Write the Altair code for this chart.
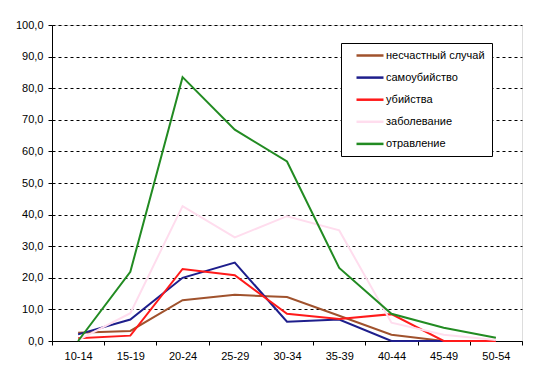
import altair as alt
import pandas as pd

ages = ["10-14", "15-19", "20-24", "25-29", "30-34", "35-39", "40-44", "45-49", "50-54"]
series_names = ["несчастный случай", "самоубийство", "убийства", "заболевание", "отравление"]
colors = ["#A0522D", "#1E1E8C", "#FF1A1A", "#FFDDEE", "#228B22"]

accident = [2.6, 3.2, 12.9, 14.6, 13.9, 8.0, 2.0, 0.0, 0.0]
suicide = [2.1, 6.8, 20.0, 24.8, 6.1, 6.8, 0.0, 0.0, 0.0]
murder = [0.9, 1.7, 22.8, 20.8, 8.6, 7.0, 8.5, 0.0, 0.0]
disease = [0.3, 8.8, 42.7, 32.8, 39.5, 35.0, 5.8, 2.0, 0.3]
poisoning = [0.0, 21.9, 83.5, 66.9, 56.8, 23.1, 8.6, 4.2, 1.0]

all_values = [accident, suicide, murder, disease, poisoning]

rows = []
for order, (name, vals) in enumerate(zip(series_names, all_values)):
    for a, v in zip(ages, vals):
        rows.append({"age": a, "value": v, "series": name, "order": order})
df = pd.DataFrame(rows)

FONT = "Liberation Sans"

lines = alt.Chart(df).mark_line(strokeWidth=2, clip=False).encode(
    x=alt.X("age:N", sort=ages, title=None,
            scale=alt.Scale(type="band", paddingInner=0, paddingOuter=0),
            axis=alt.Axis(tickBand="extent", labelAngle=0, tickSize=4, labelPadding=5,
                          domainColor="black", tickColor="black", labelColor="black",
                          labelFont=FONT, labelFontSize=11, grid=False)),
    y=alt.Y("value:Q", title=None,
            scale=alt.Scale(domain=[0, 100], nice=False),
            axis=alt.Axis(values=list(range(0, 101, 10)), tickSize=4, labelPadding=5,
                          labelExpr="replace(format(datum.value, '.1f'), '.', ',')",
                          domainColor="black", tickColor="black", labelColor="black",
                          labelFont=FONT, labelFontSize=11,
                          grid=True, gridColor="black", gridDash=[3, 3], gridWidth=1,
                          gridOpacity=1)),
    color=alt.Color("series:N", sort=series_names,
                    scale=alt.Scale(domain=series_names, range=colors),
                    legend=alt.Legend(title=None, orient="none", legendX=289, legendY=18,
                                      symbolType="M1,0H10", symbolSize=36,
                                      symbolStrokeWidth=2.5, labelOffset=27,
                                      labelFont=FONT, labelFontSize=11, labelColor="black",
                                      rowPadding=10.1, padding=7,
                                      fillColor="white", strokeColor="black",
                                      labelLimit=200)),
    order=alt.Order("order:Q"),
    detail="series:N",
)

chart = lines.properties(
    width=470, height=316,
    autosize=alt.AutoSizeParams(type="none"),
    padding={"left": 44, "top": 17, "right": 7, "bottom": 32},
).configure_view(
    stroke="#404040", strokeWidth=1
).configure(background="white")

chart.save("out.html", embed_options={"renderer": "svg", "actions": False})
